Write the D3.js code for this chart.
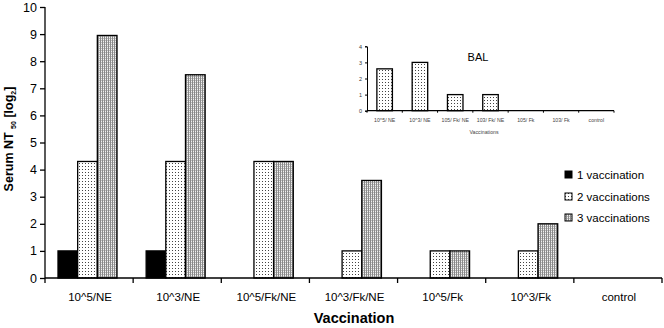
<!DOCTYPE html>
<html><head><meta charset="utf-8">
<script src="https://cdn.jsdelivr.net/npm/d3@7"></script>
<style>body{margin:0;background:#fff}svg{display:block;font-family:Arial,"Liberation Sans",sans-serif}</style>
</head><body><svg id="c" width="664" height="328"></svg>
<script>
const categories = ["10^5/NE","10^3/NE","10^5/Fk/NE","10^3/Fk/NE","10^5/Fk","10^3/Fk","control"];
const seriesNames = ["1 vaccination","2 vaccinations","3 vaccinations"];
const vacc1 = [1,1,0,0,0,0,0];
const vacc2 = [4.3,4.3,4.3,1,1,1,0];
const vacc3 = [8.95,7.5,4.3,3.6,1,2,0];
const yTicks = [0,1,2,3,4,5,6,7,8,9,10];
const insetCategories = ["10^5/ NE","10^3/ NE","105/ Fk/ NE","103/ Fk/ NE","105/ Fk","103/ Fk","control"];
const insetValues = [2.6,3,1,1,0,0,0];
const insetTicks = [0,1,2,3,4];

const svg = d3.select("#c");
const defs = svg.append("defs");
const p2 = defs.append("pattern").attr("id","dots").attr("patternUnits","userSpaceOnUse").attr("width",3).attr("height",3);
p2.append("rect").attr("width",3).attr("height",3).attr("fill","#fff");
p2.append("rect").attr("x",1).attr("y",1).attr("width",1).attr("height",1).attr("fill","#444");
const p3 = defs.append("pattern").attr("id","stripes").attr("patternUnits","userSpaceOnUse").attr("width",2).attr("height",2);
p3.append("rect").attr("width",2).attr("height",2).attr("fill","#f2f2f2");
p3.append("rect").attr("x",0).attr("y",0).attr("width",1).attr("height",2).attr("fill","#8a8a8a");
p3.append("rect").attr("x",1).attr("y",0).attr("width",1).attr("height",1).attr("fill","#bbb");
const fills = ["#000","url(#dots)","url(#stripes)"];
const series = [vacc1, vacc2, vacc3];

const x0 = d3.scaleBand().domain(categories).range([45,662]);
const x1 = d3.scaleBand().domain(seriesNames).range([13,72]);
const y = d3.scaleLinear().domain([0,10]).range([278,7]);

series.forEach((vals,si)=>{
  svg.append("g").selectAll("rect").data(vals.map((v,i)=>({v,c:categories[i]})).filter(d=>d.v>0))
    .join("rect")
    .attr("x",d=>x0(d.c)+x1(seriesNames[si]))
    .attr("y",d=>y(d.v))
    .attr("width",x1.bandwidth())
    .attr("height",d=>y(0)-y(d.v))
    .attr("fill",fills[si]).attr("stroke","#000").attr("stroke-width",1.3);
});

const ya = svg.append("g").attr("transform","translate(45,0)")
  .call(d3.axisLeft(y).tickValues(yTicks).tickSize(5).tickPadding(3).tickFormat(d3.format("d")));
ya.selectAll("text").attr("font-size",12.5).attr("fill","#000");
ya.selectAll("path,line").attr("stroke","#000").attr("stroke-width",1.3);
ya.select(".domain").attr("d","M0,7V278");

const xa = svg.append("g").attr("transform","translate(0,278)");
xa.append("line").attr("x1",45).attr("x2",662).attr("stroke","#000").attr("stroke-width",1.3);
xa.selectAll("line.t").data(categories.concat(["end"])).join("line").attr("class","t")
  .attr("x1",(d,i)=>i<categories.length?x0(d):x0.range()[1]).attr("x2",(d,i)=>i<categories.length?x0(d):x0.range()[1])
  .attr("y1",0).attr("y2",5).attr("stroke","#000").attr("stroke-width",1.3);
xa.selectAll("text").data(categories).join("text")
  .attr("x",d=>x0(d)+x0.bandwidth()/2+1).attr("y",23)
  .attr("text-anchor","middle").attr("font-size",11.5).text(d=>d);

svg.append("text").attr("x",354).attr("y",323).attr("text-anchor","middle")
  .attr("font-size",14.5).attr("font-weight","bold").text("Vaccination");
const yt = svg.append("text").attr("transform","translate(13,139) rotate(-90)").attr("text-anchor","middle")
  .attr("font-size",12.5).attr("font-weight","bold");
yt.append("tspan").text("Serum NT ");
yt.append("tspan").attr("font-size",7).attr("dy",3).text("50");
yt.append("tspan").attr("dy",-3).text(" [log");
yt.append("tspan").attr("font-size",7).attr("dy",3).text("2");
yt.append("tspan").attr("dy",-3).text("]");

const lg = svg.append("g");
seriesNames.forEach((n,i)=>{
  const yy = [175,197,218][i];
  lg.append("rect").attr("x",565).attr("y",yy-4).attr("width",7).attr("height",7)
    .attr("fill",fills[i]).attr("stroke","#000").attr("stroke-width",1);
  lg.append("text").attr("x",577).attr("y",yy+4).attr("font-size",11.5).text(n);
});

const ix = d3.scaleBand().domain(insetCategories).range([367,614]).paddingInner(0.56).paddingOuter(0.28);
const iy = d3.scaleLinear().domain([0,4]).range([110.7,46.3]);
svg.append("g").selectAll("rect").data(insetValues.map((v,i)=>({v,c:insetCategories[i]})).filter(d=>d.v>0))
  .join("rect").attr("x",d=>ix(d.c)).attr("y",d=>iy(d.v)).attr("width",ix.bandwidth())
  .attr("height",d=>iy(0)-iy(d.v)).attr("fill","url(#dots)").attr("stroke","#000").attr("stroke-width",1.3);
const iya = svg.append("g").attr("transform","translate(367,0)")
  .call(d3.axisLeft(iy).tickValues(insetTicks).tickSize(2).tickPadding(3).tickFormat(d3.format("d")));
iya.selectAll("text").attr("font-size",5.5).attr("fill","#333");
iya.selectAll("path,line").attr("stroke","#000").attr("stroke-width",1);
const ixb = d3.scaleBand().domain(insetCategories).range([367,614]);
const ixa = svg.append("g").attr("transform","translate(0,110.7)");
ixa.append("line").attr("x1",367).attr("x2",614).attr("stroke","#000").attr("stroke-width",1.3);
ixa.selectAll("line.t").data(insetCategories.concat(["end"])).join("line").attr("class","t")
  .attr("x1",(d,i)=>i<7?ixb(d):614).attr("x2",(d,i)=>i<7?ixb(d):614)
  .attr("y1",0).attr("y2",2).attr("stroke","#000").attr("stroke-width",1);
ixa.selectAll("text").data(insetCategories).join("text")
  .attr("x",d=>ixb(d)+ixb.bandwidth()/2).attr("y",11)
  .attr("text-anchor","middle").attr("font-size",5.2).attr("fill","#444").text(d=>d);
svg.append("text").attr("x",484).attr("y",134).attr("text-anchor","middle").attr("font-size",5.2).attr("fill","#444").text("Vaccinations");
svg.append("text").attr("x",478).attr("y",61).attr("text-anchor","middle").attr("font-size",11).text("BAL");
</script></body></html>
